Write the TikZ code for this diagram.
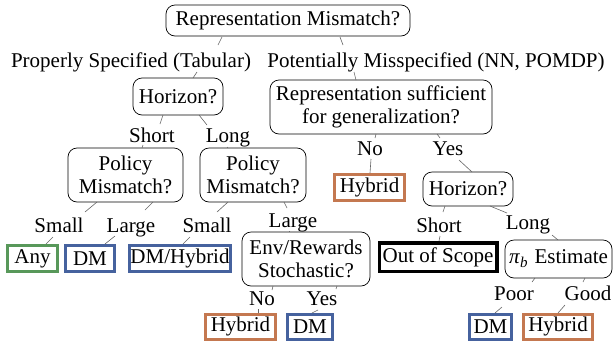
\documentclass[tikz,border=0pt]{standalone}
\usepackage{fontspec}
\setmainfont{Liberation Serif}
\definecolor{leafgreen}{RGB}{88,152,90}
\definecolor{leafblue}{RGB}{70,98,158}
\definecolor{leaforange}{RGB}{196,120,80}
\tikzset{
  base font/.style={font=\fontsize{21}{23}\selectfont},
  qbox/.style={base font, draw=black, line width=0.7pt, rounded corners=9pt, align=center, inner sep=2pt},
  lbl/.style={base font, anchor=base, inner sep=2pt},
  leaf/.style={base font, draw=#1, line width=3pt, inner sep=0pt, minimum height=26pt},
  conn/.style={draw=black!60, line width=0.6pt},
}
\begin{document}
\begin{tikzpicture}[x=1pt,y=-1pt]
\useasboundingbox (0,0) rectangle (613,341);
% question boxes
\node[qbox, minimum width=244pt, minimum height=31pt] (root) at (288,20.5) {Representation Mismatch?};
\node[qbox, minimum width=90pt, minimum height=37pt] (h1) at (178,96.5) {Horizon?};
\node[qbox, minimum width=222pt, minimum height=54pt] (rs) at (381,107) {Representation sufficient\\for generalization?};
\node[qbox, minimum width=115pt, minimum height=54pt] (pm1) at (125.5,175) {Policy\\Mismatch?};
\node[qbox, minimum width=106pt, minimum height=54pt] (pm2) at (253,175) {Policy\\Mismatch?};
\node[qbox, minimum width=90pt, minimum height=34pt] (h2) at (468,189) {Horizon?};
\node[qbox, minimum width=128pt, minimum height=54pt] (env) at (306,259) {Env/Rewards\\Stochastic?};
\node[qbox, minimum width=107pt, minimum height=38pt] (pib) at (558.5,259) {\textit{π}\raisebox{-4pt}{\fontsize{15}{15}\selectfont\textit{b}}\hspace{7pt}Estimate};
% leaves
\node[leaf=leaforange, minimum width=70pt] (hyb1) at (369.5,187.5) {Hybrid};
\node[leaf=leafgreen, minimum width=50pt] (any) at (32.5,258.5) {Any};
\node[leaf=leafblue, minimum width=49pt] (dm1) at (90,258.5) {DM};
\node[leaf=leafblue, minimum width=101pt] (dmh) at (180,258.5) {DM/Hybrid};
\node[leaf=black, line width=3.5pt, minimum width=117.5pt, minimum height=28.5pt] (oos) at (438,257) {Out of Scope};
\node[leaf=leaforange, minimum width=70pt, minimum height=25pt] (hyb2) at (240.5,326.5) {Hybrid};
\node[leaf=leafblue, minimum width=45pt, minimum height=25pt] (dm2) at (310,326.5) {DM};
\node[leaf=leafblue, minimum width=42pt, minimum height=25pt] (dm3) at (490.5,326.5) {DM};
\node[leaf=leaforange, minimum width=69pt, minimum height=25pt] (hyb3) at (558,326.5) {Hybrid};
% edge labels
\node[lbl] (lp) at (131,67) {Properly Specified (Tabular)};
\node[lbl] (lq) at (436,67) {Potentially Misspecified (NN, POMDP)};
\node[lbl] (short1) at (152,142) {Short};
\node[lbl] (long1) at (228,142) {Long};
\node[lbl] (no1) at (370,155) {No};
\node[lbl] (yes1) at (448,155) {Yes};
\node[lbl] (small1) at (59,232) {Small};
\node[lbl] (large1) at (131,232) {Large};
\node[lbl] (small2) at (207,232) {Small};
\node[lbl] (large2) at (293,227) {Large};
\node[lbl] (short2) at (439,232) {Short};
\node[lbl] (long2) at (528,229) {Long};
\node[lbl] (no2) at (262,305) {No};
\node[lbl] (yes2) at (322,305) {Yes};
\node[lbl] (poor) at (514,300) {Poor};
\node[lbl] (good) at (588,300) {Good};
% connectors (short segments between named nodes)
\draw[conn] ([shift={(-66,16.5)}]root.center) -- ([shift={(87,-22)}]lp.base);
\draw[conn] ([shift={(66,5)}]lp.base) -- ([shift={(15,-18.5)}]h1.center);
\draw[conn] ([shift={(52,16.5)}]root.center) -- ([shift={(-93,-22)}]lq.base);
\draw[conn] ([shift={(-82,5)}]lq.base) -- ([shift={(-25,-27)}]rs.center);
\draw[conn] ([shift={(-15,18.5)}]h1.center) -- ([shift={(8,-18)}]short1.base);
\draw[conn] ([shift={(21,18.5)}]h1.center) -- ([shift={(-21,-17)}]long1.base);
\draw[conn] ([shift={(-9,3)}]short1.base) -- ([shift={(16.5,-27)}]pm1.center);
\draw[conn] ([shift={(-1,5)}]long1.base) -- ([shift={(-25,-27)}]pm2.center);
\draw[conn] ([shift={(-5,27)}]rs.center) -- ([shift={(5,-17)}]no1.base);
\draw[conn] ([shift={(56,27)}]rs.center) -- ([shift={(-8,-17)}]yes1.base);
\draw[conn] ([shift={(1,4)}]no1.base) -- ([shift={(0.5,-14.5)}]hyb1.center);
\draw[conn] ([shift={(11,5)}]yes1.base) -- ([shift={(4,-17)}]h2.center);
\draw[conn] ([shift={(-28.5,27)}]pm1.center) -- ([shift={(26,-20)}]small1.base);
\draw[conn] ([shift={(27.5,27)}]pm1.center) -- ([shift={(14,-22)}]large1.base);
\draw[conn] ([shift={(-25,27)}]pm2.center) -- ([shift={(10,-20)}]small2.base);
\draw[conn] ([shift={(31,27)}]pm2.center) -- ([shift={(-6,-19)}]large2.base);
\draw[conn] ([shift={(-6,5)}]small1.base) -- ([shift={(13.5,-14.5)}]any.center);
\draw[conn] ([shift={(-16,4)}]large1.base) -- ([shift={(15,-14.5)}]dm1.center);
\draw[conn] ([shift={(-17,5)}]small2.base) -- ([shift={(3,-14.5)}]dmh.center);
\draw[conn] ([shift={(-4,4)}]large2.base) -- ([shift={(-17,-27)}]env.center);
\draw[conn] ([shift={(-23,17)}]h2.center) -- ([shift={(4,-20)}]short2.base);
\draw[conn] ([shift={(22,17)}]h2.center) -- ([shift={(-21,-16)}]long2.base);
\draw[conn] ([shift={(1,4)}]short2.base) -- ([shift={(1,-16)}]oos.center);
\draw[conn] ([shift={(24,6)}]long2.base) -- ([shift={(-0.5,-19)}]pib.center);
\draw[conn] ([shift={(-33,27)}]env.center) -- ([shift={(10,-15)}]no2.base);
\draw[conn] ([shift={(31,27)}]env.center) -- ([shift={(14,-16)}]yes2.base);
\draw[conn] ([shift={(-4,4)}]no2.base) -- ([shift={(17.5,-13.5)}]hyb2.center);
\draw[conn] ([shift={(-4,5)}]yes2.base) -- ([shift={(2,-13.5)}]dm2.center);
\draw[conn] ([shift={(-23.5,19)}]pib.center) -- ([shift={(18,-18)}]poor.base);
\draw[conn] ([shift={(26.5,19)}]pib.center) -- ([shift={(-5,-18)}]good.base);
\draw[conn] ([shift={(-12,7)}]poor.base) -- ([shift={(4.5,-13.5)}]dm3.center);
\draw[conn] ([shift={(-23,5)}]good.base) -- ([shift={(0,-13.5)}]hyb3.center);
\end{tikzpicture}
\end{document}
